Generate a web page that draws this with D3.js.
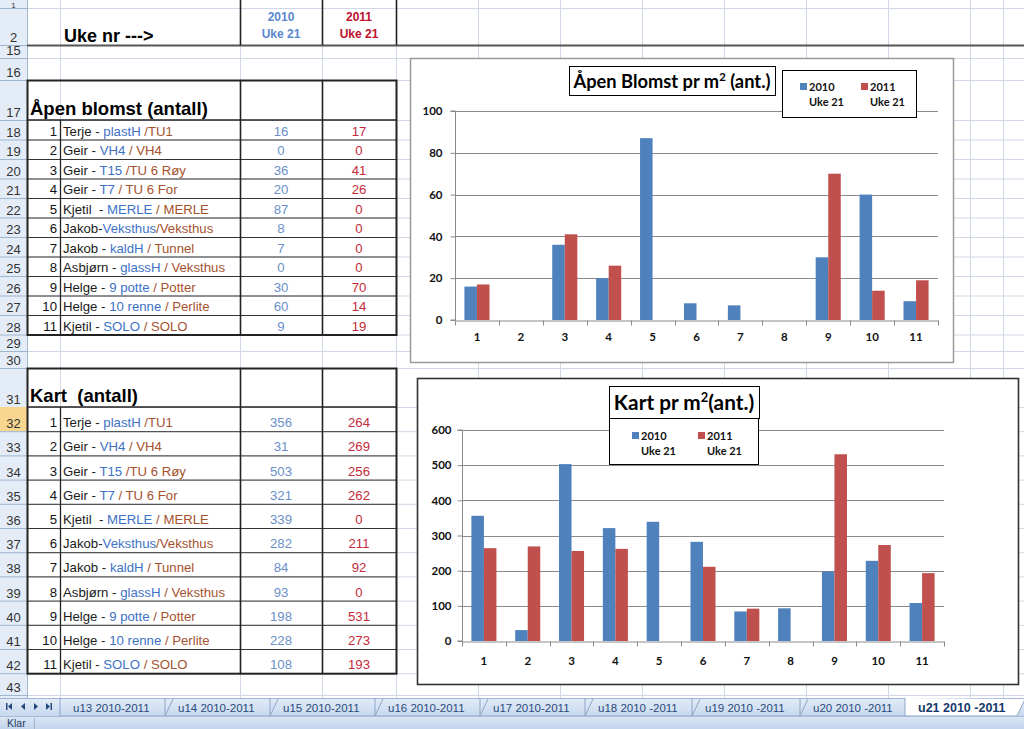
<!DOCTYPE html>
<html><head><meta charset="utf-8">
<script src="https://cdn.jsdelivr.net/npm/d3@7"></script>
<style>
html,body{margin:0;padding:0;background:#fff;overflow:hidden}
svg{display:block}
text{white-space:pre}
</style></head><body>
<svg id="s" width="1024" height="729"></svg>
<script>
// ---------- DATA ----------
const categories = ["1","2","3","4","5","6","7","8","9","10","11"];
const seriesNames = ["2010","2011"];
const seriesSub = ["Uke 21","Uke 21"];
const siteOwner = ["Terje - ","Geir - ","Geir - ","Geir - ","Kjetil  - ","Jakob-","Jakob - ","Asbjørn - ","Helge - ","Helge - ","Kjetil - "];
const site2010 = ["plastH ","VH4","T15 ","T7","MERLE","Veksthus","kaldH","glassH","9 potte","10 renne","SOLO"];
const site2011 = ["/TU1"," / VH4","/TU 6 Røy"," / TU 6 For"," / MERLE","/Veksthus"," / Tunnel"," / Veksthus"," / Potter"," / Perlite"," / SOLO"];
const bloom2010 = [16,0,36,20,87,8,7,0,30,60,9];
const bloom2011 = [17,0,41,26,0,0,0,0,70,14,19];
const kart2010 = [356,31,503,321,339,282,84,93,198,228,108];
const kart2011 = [264,269,256,262,0,211,92,0,531,273,193];
const bloomTicks = [0,20,40,60,80,100];
const kartTicks = [0,100,200,300,400,500,600];
const sheetTabs = ["u13 2010-2011","u14 2010-2011","u15 2010-2011","u16 2010-2011","u17 2010-2011","u18 2010 -2011","u19 2010 -2011","u20 2010 -2011","u21 2010 -2011"];

// ---------- LAYOUT ----------
const svg = d3.select("#s");
const CELLFONT = "'Liberation Sans', Arial, sans-serif";
const CHARTFONT = "Lato, 'Open Sans', sans-serif";
const GRID = "#d0d7e5";
const BLUE = "#4f81bd", RED = "#c0504d";

const rows = [];
function addRow(label, top, bottom){ rows.push({label, top, bottom}); }
addRow("1", -20, 8);
addRow("2", 8, 45);
addRow("15", 45, 58);
addRow("16", 58, 80);
addRow("17", 80, 120);
for (let i=0;i<11;i++) addRow(String(18+i), 120+i*19.5, 120+(i+1)*19.5);
addRow("29", 334.5, 351);
addRow("30", 351, 368);
addRow("31", 368, 407);
for (let i=0;i<11;i++) addRow(String(32+i), 407+i*24.2, 407+(i+1)*24.2);
addRow("43", 673.2, 695);
addRow("44", 695, 712);
const cols = [27,60,240,322,396,478,560,642,724,806,888,970,1003];

svg.append("rect").attr("width",1024).attr("height",729).attr("fill","#fff");
const grid = svg.append("g");
rows.forEach(r=>{
  grid.append("line").attr("x1",27).attr("x2",1024).attr("y1",r.bottom+0.5).attr("y2",r.bottom+0.5).attr("stroke",GRID);
});
cols.forEach(c=>{
  grid.append("line").attr("x1",c+0.5).attr("x2",c+0.5).attr("y1",0).attr("y2",698).attr("stroke",GRID);
});

// row header column
const rh = svg.append("g");
rh.append("rect").attr("x",0).attr("y",0).attr("width",27).attr("height",698).attr("fill","#e4ecf7");
rows.forEach(r=>{
  if (r.label==="32") rh.append("rect").attr("x",0).attr("y",r.top).attr("width",27).attr("height",r.bottom-r.top).attr("fill","#f8d68f");
  rh.append("line").attr("x1",0).attr("x2",27).attr("y1",r.bottom+0.5).attr("y2",r.bottom+0.5).attr("stroke","#9eb6ce");
  const small = r.label==="1" || r.label==="44";
  if (r.label==="44") return;
  rh.append("text").attr("x",13.5).attr("y",small?7.5:r.bottom-3).attr("text-anchor","middle")
    .attr("font-family",CELLFONT).attr("font-size",small?8:13).attr("fill","#333").text(r.label);
});
rh.append("line").attr("x1",27.5).attr("x2",27.5).attr("y1",0).attr("y2",698).attr("stroke","#9eb6ce");

// ---------- CELLS ----------
const cells = svg.append("g").attr("font-family",CELLFONT);
cells.append("text").attr("x",64).attr("y",42).attr("font-size",18).attr("font-weight","bold").attr("fill","#000").text("Uke nr --->");
const hdrCol = [281, 359], hdrColor = ["#5b87d0","#c0102c"];
seriesNames.forEach((s,i)=>{
  cells.append("text").attr("x",hdrCol[i]).attr("y",21).attr("text-anchor","middle").attr("font-size",12).attr("font-weight","bold").attr("fill",hdrColor[i]).text(s);
  cells.append("text").attr("x",hdrCol[i]).attr("y",38).attr("text-anchor","middle").attr("font-size",12).attr("font-weight","bold").attr("fill",hdrColor[i]).text(seriesSub[i]);
});
const B = "#222";
cells.append("line").attr("x1",27).attr("x2",1024).attr("y1",45.5).attr("y2",45.5).attr("stroke","#555").attr("stroke-width",2);
[240,322,396].forEach(x=>cells.append("line").attr("x1",x+0.5).attr("x2",x+0.5).attr("y1",0).attr("y2",45).attr("stroke",B).attr("stroke-width",1.6));

function table(title, top, headBottom, rowH, v10, v11){
  const n = categories.length;
  const bottom = headBottom + n*rowH;
  cells.append("text").attr("x",30).attr("y",headBottom-5).attr("font-size",18.5).attr("font-weight","bold").attr("fill","#000").text(title);
  categories.forEach((c,i)=>{
    const yb = headBottom + (i+1)*rowH - 4;
    cells.append("text").attr("x",57).attr("y",yb).attr("text-anchor","end").attr("font-size",13.2).attr("fill","#111").text(c);
    const t = cells.append("text").attr("x",63).attr("y",yb).attr("font-size",13.2);
    t.append("tspan").attr("fill","#1a1a1a").text(siteOwner[i]);
    t.append("tspan").attr("fill","#3d72c6").text(site2010[i]);
    t.append("tspan").attr("fill","#a5522e").text(site2011[i]);
    cells.append("text").attr("x",281).attr("y",yb).attr("text-anchor","middle").attr("font-size",13.2).attr("fill","#6b8fc9").text(v10[i]);
    cells.append("text").attr("x",359).attr("y",yb).attr("text-anchor","middle").attr("font-size",13.2).attr("fill","#c42a3a").text(v11[i]);
    if (i>0) cells.append("line").attr("x1",27).attr("x2",396).attr("y1",headBottom+i*rowH+0.5).attr("y2",headBottom+i*rowH+0.5).attr("stroke","#333").attr("stroke-width",1);
  });
  cells.append("line").attr("x1",27).attr("x2",396).attr("y1",headBottom).attr("y2",headBottom).attr("stroke",B).attr("stroke-width",1.6);
  cells.append("line").attr("x1",60.5).attr("x2",60.5).attr("y1",headBottom).attr("y2",bottom).attr("stroke",B).attr("stroke-width",1.3);
  [240,322].forEach(x=>cells.append("line").attr("x1",x+0.5).attr("x2",x+0.5).attr("y1",top).attr("y2",bottom).attr("stroke",B).attr("stroke-width",1.6));
  cells.append("rect").attr("x",27.5).attr("y",top+0.5).attr("width",369).attr("height",bottom-top).attr("fill","none").attr("stroke",B).attr("stroke-width",2);
}
table("Åpen blomst (antall)", 80, 120, 19.5, bloom2010, bloom2011);
table("Kart  (antall)", 368, 407, 24.2, kart2010, kart2011);

// ---------- CHARTS ----------
function chart(cfg){
  const g = svg.append("g").attr("font-family",CHARTFONT);
  const [bx0,by0,bx1,by1] = cfg.box;
  g.append("rect").attr("x",bx0+0.5).attr("y",by0+0.5).attr("width",bx1-bx0).attr("height",by1-by0)
    .attr("fill","#fff").attr("stroke",cfg.border).attr("stroke-width",cfg.bw);
  const x0 = d3.scaleBand().domain(categories).range([cfg.px0,cfg.px1]);
  const step = x0.step(), bw = step/3.5;
  const x1 = d3.scaleBand().domain(seriesNames).range([(step-2*bw)/2,(step+2*bw)/2]);
  const y = d3.scaleLinear().domain([0,cfg.ticks[cfg.ticks.length-1]]).range([cfg.py0,cfg.py1]);
  g.append("g").selectAll("line").data(cfg.ticks.slice(1)).join("line")
    .attr("x1",cfg.px0).attr("x2",cfg.px1).attr("y1",d=>Math.round(y(d))+0.5).attr("y2",d=>Math.round(y(d))+0.5)
    .attr("stroke","#8a8a8a");
  const sets = [cfg.v10, cfg.v11], colors=[BLUE,RED];
  seriesNames.forEach((s,si)=>{
    g.append("g").selectAll("rect").data(categories).join("rect")
      .attr("x",(c)=>x0(c)+x1(s)).attr("width",x1.bandwidth())
      .attr("y",(c,i)=>y(sets[si][i])).attr("height",(c,i)=>y(0)-y(sets[si][i]))
      .attr("fill",colors[si]);
  });
  const ya = g.append("g").attr("transform",`translate(${cfg.px0+0.5},0)`)
    .call(d3.axisLeft(y).tickValues(cfg.ticks).tickSize(5).tickPadding(cfg.ypad).tickFormat(d3.format("d")));
  ya.select(".domain").attr("stroke","#8a8a8a").attr("d",`M-5,${cfg.py0}H0V${cfg.py1}H-5`);
  ya.selectAll(".tick line").attr("stroke","#8a8a8a");
  ya.selectAll("text").attr("font-family",CHARTFONT).attr("font-size",11.5).attr("font-weight","bold").attr("fill","#111");
  const xa = g.append("g").attr("transform",`translate(0,${Math.round(cfg.py0)+0.5})`)
    .call(d3.axisBottom(x0).tickSize(0).tickPadding(cfg.xpad));
  xa.select(".domain").attr("stroke","#8a8a8a");
  xa.selectAll("text").attr("font-family",CHARTFONT).attr("font-size",11.5).attr("font-weight","bold").attr("fill","#111");
  xa.append("g").selectAll("line").data(categories.concat(["end"])).join("line")
    .attr("x1",(c,i)=>Math.round(cfg.px0+i*step)+0.5).attr("x2",(c,i)=>Math.round(cfg.px0+i*step)+0.5)
    .attr("y1",0).attr("y2",5).attr("stroke","#8a8a8a");
  const [tx0,ty0,tx1,ty1] = cfg.titleBox;
  g.append("rect").attr("x",tx0+0.5).attr("y",ty0+0.5).attr("width",tx1-tx0).attr("height",ty1-ty0).attr("fill","#fff").attr("stroke","#000");
  const tt = g.append("text").attr("x",(tx0+tx1)/2).attr("y",cfg.titleY).attr("text-anchor","middle")
    .attr("font-size",cfg.titleSize).attr("font-weight","bold").attr("fill","#000");
  tt.append("tspan").text(cfg.title[0]);
  tt.append("tspan").attr("font-size",cfg.titleSize*0.62).attr("dy",-cfg.titleSize*0.38).text("2");
  tt.append("tspan").attr("dy",cfg.titleSize*0.38).text(cfg.title[1]);
  const [lx0,ly0,lx1,ly1] = cfg.legBox;
  g.append("rect").attr("x",lx0+0.5).attr("y",ly0+0.5).attr("width",lx1-lx0).attr("height",ly1-ly0).attr("fill","#fff").attr("stroke","#000");
  seriesNames.forEach((s,i)=>{
    const lx = cfg.legX[i];
    g.append("rect").attr("x",lx).attr("y",cfg.legY-8).attr("width",7).attr("height",7).attr("fill",colors[i]);
    g.append("text").attr("x",lx+9).attr("y",cfg.legY).attr("font-size",11).attr("font-weight","bold").attr("fill","#111").text(s);
    g.append("text").attr("x",lx+9).attr("y",cfg.legY+15).attr("font-size",11).attr("font-weight","bold").attr("fill","#111").text(seriesSub[i]);
  });
}

chart({box:[410,58,953,362], border:"#9a9a9a", bw:1.5,
  px0:455, px1:938, py0:320, py1:111, ticks:bloomTicks, v10:bloom2010, v11:bloom2011, ypad:8, xpad:12,
  titleBox:[569,66,775,95], titleY:88, titleSize:18.3, title:["Åpen Blomst pr m"," (ant.)"],
  legBox:[782,70,916,117], legX:[800,861], legY:91});
chart({box:[417,378,1018,684], border:"#333", bw:1.6,
  px0:462, px1:944, py0:641, py1:430, ticks:kartTicks, v10:kart2010, v11:kart2011, ypad:6, xpad:15,
  titleBox:[609,386,759,418], titleY:410, titleSize:20.8, title:["Kart pr m","(ant.)"],
  legBox:[609,418,758,464], legX:[632,698], legY:440});

// ---------- SHEET TABS & STATUS BAR ----------
const tb = svg.append("g").attr("font-family",CELLFONT);
const tg = svg.append("defs").append("linearGradient").attr("id","tabbg").attr("x1",0).attr("x2",0).attr("y1",0).attr("y2",1);
tg.append("stop").attr("offset",0).attr("stop-color","#e3ecf8");
tg.append("stop").attr("offset",1).attr("stop-color","#c7d8ee");
tb.append("rect").attr("x",0).attr("y",698).attr("width",1024).attr("height",18).attr("fill","url(#tabbg)");
tb.append("line").attr("x1",0).attr("x2",1024).attr("y1",698.5).attr("y2",698.5).attr("stroke","#9fb5d3");
const nav = tb.append("g").attr("fill","#23487e");
nav.append("rect").attr("x",6).attr("y",703).attr("width",1.5).attr("height",7);
nav.append("path").attr("d","M8,706.5 L12,703 L12,710 Z");
nav.append("path").attr("d","M21,706.5 L25,703 L25,710 Z");
nav.append("path").attr("d","M34,703 L38,706.5 L34,710 Z");
nav.append("path").attr("d","M46,703 L50,706.5 L46,710 Z");
nav.append("rect").attr("x",50.5).attr("y",703).attr("width",1.5).attr("height",7);
const tabX = [60,165,270,375,480,585,692,800,905];
sheetTabs.forEach((t,i)=>{
  const x = tabX[i], w = (i<sheetTabs.length-1 ? tabX[i+1]-x : 112);
  const active = i===sheetTabs.length-1;
  tb.append("path").attr("d",`M${x},698 L${x},716 L${x+w},716 L${x+w+8},699`)
    .attr("fill",active?"#ffffff":"none").attr("stroke","#8ea6c6");
  tb.append("text").attr("x",x+13).attr("y",712).attr("font-size",active?12.5:11.5)
    .attr("font-weight",active?"bold":"normal").attr("fill",active?"#15396b":"#2a4a7a").text(t);
});
const sg = svg.select("defs").append("linearGradient").attr("id","stbg").attr("x1",0).attr("x2",0).attr("y1",0).attr("y2",1);
sg.append("stop").attr("offset",0).attr("stop-color","#dce7f5");
sg.append("stop").attr("offset",1).attr("stop-color","#c3d5ed");
tb.append("rect").attr("x",0).attr("y",716).attr("width",1024).attr("height",13).attr("fill","url(#stbg)");
tb.append("line").attr("x1",0).attr("x2",1024).attr("y1",716.5).attr("y2",716.5).attr("stroke","#a8bcd8");
tb.append("text").attr("x",7).attr("y",727).attr("font-size",10.5).attr("fill","#1e3a64").text("Klar");
tb.append("line").attr("x1",34.5).attr("x2",34.5).attr("y1",718).attr("y2",729).attr("stroke","#9fb5d3");
</script>
</body></html>
